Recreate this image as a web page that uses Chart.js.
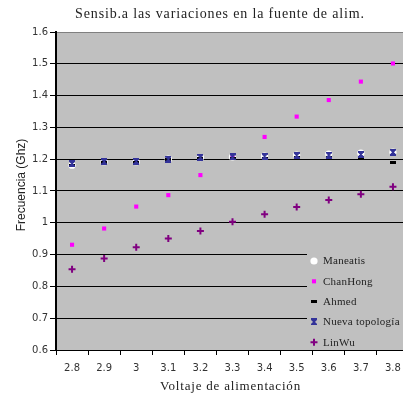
<!DOCTYPE html>
<html>
<head>
<meta charset="utf-8">
<script src="https://cdn.jsdelivr.net/npm/chart.js@4/dist/chart.umd.min.js"></script>
<style>
  html, body { margin: 0; padding: 0; background: #fff; overflow: hidden; }
  #wrap { position: relative; width: 403px; height: 395px; overflow: hidden; }
  #c { position: absolute; left: 0; top: 0; }
</style>
</head>
<body>
<div id="wrap"><canvas id="c" width="440" height="395"></canvas></div>
<script>
// Supply voltage (V) on the category axis
const voltages = ['2.8', '2.9', '3', '3.1', '3.2', '3.3', '3.4', '3.5', '3.6', '3.7', '3.8'];

// Output frequency (GHz) for each oscillator topology
const maneatis = [1.181, 1.192, 1.192, 1.200, 1.205, 1.207, 1.210, 1.213, 1.216, 1.219, 1.222];
const chanHong = [0.931, 0.982, 1.051, 1.087, 1.150, 1.204, 1.270, 1.334, 1.386, 1.444, 1.501];
const ahmed    = [1.179, 1.190, 1.191, 1.198, 1.202, 1.203, 1.203, 1.204, 1.205, 1.205, 1.191];
const nueva    = [1.186, 1.192, 1.193, 1.200, 1.206, 1.207, 1.209, 1.212, 1.213, 1.215, 1.222];
const linWu    = [0.854, 0.888, 0.923, 0.951, 0.974, 1.003, 1.027, 1.050, 1.072, 1.090, 1.113];

// Frequency axis ticks
const yTickValues = [0.6, 0.7, 0.8, 0.9, 1, 1.1, 1.2, 1.3, 1.4, 1.5, 1.6];

const seriesNames = ['Maneatis', 'ChanHong', 'Ahmed', 'Nueva topología', 'LinWu'];

const chartTitle = 'Sensib.a las variaciones en la fuente de alim.';
const xTitle = 'Voltaje de alimentación';
const yTitle = 'Frecuencia (Ghz)';

// Small bitmap markers
function barMarker(w, h, color) {
  const c = document.createElement('canvas');
  c.width = w; c.height = h;
  const g = c.getContext('2d');
  g.fillStyle = color;
  g.fillRect(0, 0, w, h);
  return c;
}
function hourglassMarker(color) {
  const c = document.createElement('canvas');
  c.width = 6; c.height = 7;
  const g = c.getContext('2d');
  g.fillStyle = color;
  g.fillRect(0, 0, 6, 2);
  g.fillRect(0, 5, 6, 2);
  g.fillRect(2, 2, 2, 3);
  g.fillRect(1, 2, 4, 1);
  g.fillRect(1, 4, 4, 1);
  return c;
}
const ahmedMark = barMarker(6, 3, '#000000');
const nuevaMark = hourglassMarker('#333399');

const PLOT_BG = '#c0c0c0';
const SERIF = '"Liberation Serif", "Times New Roman", serif';

const plotBackground = {
  id: 'plotBackground',
  beforeDraw(chart) {
    const a = chart.chartArea, ctx = chart.ctx;
    ctx.save();
    ctx.fillStyle = PLOT_BG;
    ctx.fillRect(a.left, a.top, a.right - a.left, a.bottom - a.top);
    ctx.restore();
  }
};

// Chart title and axis titles, drawn with a little extra tracking
const titles = {
  id: 'titles',
  afterDraw(chart) {
    const ctx = chart.ctx, a = chart.chartArea;
    ctx.save();
    ctx.fillStyle = '#222';
    ctx.textBaseline = 'middle';
    ctx.textAlign = 'center';

    ctx.font = '14px ' + SERIF;
    ctx.letterSpacing = '0.85px';
    ctx.fillText(chartTitle, 220, 14);

    ctx.font = '13px ' + SERIF;
    ctx.letterSpacing = '0.8px';
    ctx.fillText(xTitle, (a.left + a.right) / 2 - 2, 387);

    ctx.letterSpacing = '0px';
    ctx.font = '12px "Liberation Sans", sans-serif';
    ctx.translate(22, 185);
    ctx.rotate(-Math.PI / 2);
    ctx.fillText(yTitle, 0, 0);
    ctx.restore();
  }
};

// Legend box sitting in the lower right corner of the plot
const cornerLegend = {
  id: 'cornerLegend',
  afterDraw(chart) {
    const ctx = chart.ctx, a = chart.chartArea;
    const x0 = 307, y0 = 248;
    ctx.save();
    ctx.fillStyle = PLOT_BG;
    ctx.fillRect(x0, y0, a.right - x0, a.bottom - y0 - 1);
    ctx.font = '11px ' + SERIF;
    ctx.letterSpacing = '0.25px';
    ctx.textBaseline = 'middle';
    ctx.textAlign = 'left';
    chart.data.datasets.forEach((ds, i) => {
      const y = 261 + i * 20.3;
      const opts = {
        pointStyle: ds.pointStyle,
        radius: ds.pointRadius,
        rotation: 0,
        borderWidth: ds.borderWidth
      };
      ctx.fillStyle = ds.backgroundColor;
      ctx.strokeStyle = ds.borderColor;
      ctx.lineWidth = ds.borderWidth;
      Chart.helpers.drawPoint(ctx, opts, 314, y);
      ctx.fillStyle = '#222';
      ctx.fillText(ds.label, 323, y + 0.5);
    });
    ctx.restore();
  }
};

new Chart(document.getElementById('c'), {
  type: 'line',
  data: {
    labels: voltages,
    datasets: [
      { label: seriesNames[0], data: maneatis, order: 5, showLine: false,
        pointStyle: 'circle', pointRadius: 3.6, borderWidth: 0,
        backgroundColor: '#ffffff', borderColor: '#ffffff' },
      { label: seriesNames[1], data: chanHong, order: 4, showLine: false,
        pointStyle: 'rect', pointRadius: 2.9, borderWidth: 0,
        backgroundColor: '#ff00ff', borderColor: '#ff00ff' },
      { label: seriesNames[2], data: ahmed, order: 3, showLine: false,
        pointStyle: ahmedMark, pointRadius: 3, borderWidth: 0,
        backgroundColor: '#000000', borderColor: '#000000' },
      { label: seriesNames[3], data: nueva, order: 2, showLine: false,
        pointStyle: nuevaMark, pointRadius: 3, borderWidth: 0,
        backgroundColor: '#333399', borderColor: '#333399' },
      { label: seriesNames[4], data: linWu, order: 1, showLine: false,
        pointStyle: 'cross', pointRadius: 3.5, borderWidth: 2,
        backgroundColor: '#800080', borderColor: '#800080' }
    ]
  },
  options: {
    responsive: false,
    devicePixelRatio: 1,
    animation: false,
    layout: { padding: { left: 0, right: 31, top: 32, bottom: 0 } },
    elements: { point: { hoverRadius: 4 } },
    plugins: {
      legend: { display: false },
      tooltip: { enabled: false },
      title: { display: false }
    },
    scales: {
      x: {
        type: 'category',
        offset: true,
        afterFit(scale) { scale.height = 45; },
        grid: { display: true, drawOnChartArea: false, drawTicks: true, tickLength: 5, offset: true, color: '#000', tickColor: '#000' },
        border: { display: true, color: '#000', width: 1 },
        ticks: { color: '#333', padding: 7, maxRotation: 0, autoSkip: false,
                 font: { family: '"DejaVu Sans", sans-serif', size: 10 } },
        title: { display: false }
      },
      y: {
        type: 'linear',
        min: 0.6,
        max: 1.6,
        afterFit(scale) { scale.width = 56; },
        afterBuildTicks(scale) { scale.ticks = yTickValues.map(v => ({ value: v })); },
        grid: {
          color: c => (c.tick && c.tick.value === 1.6) ? '#808080' : '#000',
          tickColor: '#000',
          lineWidth: 1,
          tickLength: 6
        },
        border: { display: true, color: '#000', width: 2 },
        ticks: {
          color: '#333', padding: 2,
          font: { family: '"DejaVu Sans", sans-serif', size: 10 },
          callback: v => String(+v.toFixed(1))
        },
        title: { display: false }
      }
    }
  },
  plugins: [plotBackground, titles, cornerLegend]
});
</script>
</body>
</html>
